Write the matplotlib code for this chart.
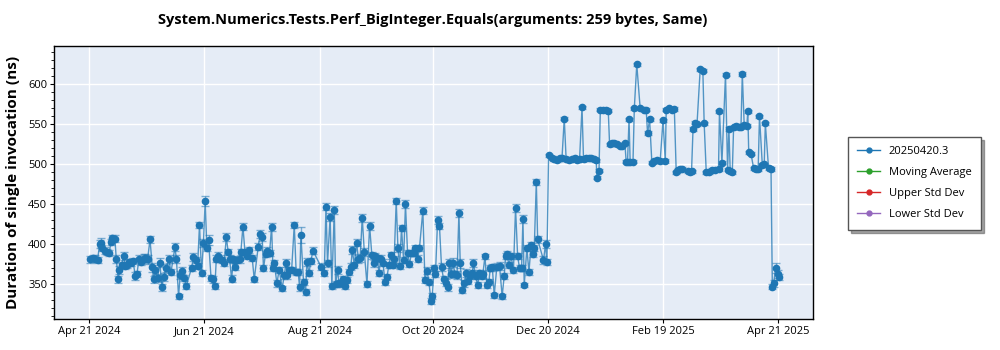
import numpy as np
import matplotlib
matplotlib.use("Agg")
import matplotlib.pyplot as plt
import matplotlib.dates as mdates
from matplotlib.ticker import MultipleLocator
from datetime import datetime, timedelta

plt.rcParams['font.family'] = ['Open Sans', 'DejaVu Sans']

title = "System.Numerics.Tests.Perf_BigInteger.Equals(arguments: 259 bytes, Same)"
ylabel = "Duration of single invocation (ns)"
series_name = "20250420.3"
start = datetime(2024, 4, 21)

# days since Apr 21 2024
days = [
    0.2, 2.0, 3.2, 4.4, 5.5, 6.4, 7.0, 8.1, 9.4, 10.6,
    11.5, 12.3, 13.6, 14.3, 15.4, 16.0, 17.1, 18.2, 19.1, 20.0,
    21.0, 22.1, 23.1, 24.5, 25.3, 26.3, 27.4, 28.8, 29.8, 30.9,
    32.2, 33.4, 34.1, 34.8, 36.2, 37.4, 38.5, 39.4, 40.8, 42.2,
    43.3, 45.4, 46.2, 47.3, 48.2, 49.1, 50.3, 51.4, 54.2, 55.2,
    56.3, 57.4, 58.4, 59.5, 60.5, 61.4, 62.3, 63.2, 64.5, 65.5,
    66.6, 67.3, 68.3, 69.4, 70.4, 71.5, 72.6, 73.6, 74.3, 75.4,
    76.4, 77.2, 78.2, 79.6, 80.3, 81.4, 82.5, 83.5, 84.6, 86.3,
    87.4, 89.5, 90.6, 91.6, 92.3, 93.4, 94.4, 95.5, 96.6, 97.3,
    98.0, 99.4, 100.6, 102.2, 103.3, 104.3, 105.0, 105.8, 107.2, 108.6,
    109.6, 110.7, 111.4, 112.1, 113.5, 114.6, 115.3, 116.4, 117.4, 118.5,
    122.7, 124.5, 125.4, 126.2, 127.6, 128.5, 129.8, 130.5, 131.5, 132.3,
    133.3, 134.4, 135.4, 136.5, 137.6, 138.6, 139.3, 140.4, 141.6, 142.6,
    143.5, 144.6, 145.7, 147.1, 148.5, 149.7, 150.6, 151.6, 152.7, 153.4,
    154.5, 155.6, 156.6, 157.7, 158.7, 159.8, 160.9, 161.5, 162.6, 163.5,
    164.4, 165.4, 166.5, 167.5, 168.6, 169.6, 170.7, 171.8, 172.8, 173.9,
    174.9, 176.7, 177.8, 178.9, 179.9, 181.0, 181.7, 182.7, 183.4, 184.5,
    185.5, 186.6, 187.7, 188.7, 189.8, 190.7, 191.6, 192.6, 193.7, 194.8,
    195.8, 196.5, 197.6, 198.6, 199.7, 200.7, 201.8, 202.9, 203.5, 204.6,
    205.7, 206.7, 207.8, 208.5, 209.6, 210.6, 211.7, 212.4, 213.5, 214.5,
    215.9, 217.3, 218.7, 219.8, 220.5, 221.2, 222.3, 223.4, 224.7, 225.8,
    226.9, 227.9, 229.0, 229.7, 230.4, 231.8, 232.9, 234.0, 235.0, 235.7,
    236.8, 237.5, 240.6, 241.7, 242.4,
    243.3, 245.1, 246.3, 247.7, 249.1, 250.4, 251.6, 252.6, 254.1, 255.7,
    257.1, 258.3, 259.7, 261.0, 261.8, 263.2, 264.7, 265.7, 267.1, 268.5,
    268.9, 270.0, 270.7, 272.1, 273.5, 274.9, 275.6, 277.0, 278.1, 279.5,
    280.9, 282.3, 283.7, 284.4, 285.1, 285.9, 286.5, 288.0, 288.7, 290.0,
    291.8, 293.6, 295.0, 295.7, 296.8, 298.0, 299.3, 300.7, 302.4, 303.9,
    305.1, 305.6, 307.0, 308.4, 309.9, 310.9, 312.1, 313.0, 314.1, 316.9,
    318.0, 319.0, 319.8, 320.8, 321.9, 323.6, 325.0, 325.7, 326.8, 328.0,
    329.8, 331.6, 333.3, 333.8, 335.1, 337.0, 338.1, 338.8, 339.5, 340.6,
    341.3, 342.7, 344.1, 345.2, 345.9, 346.9, 348.3, 348.8, 349.3, 350.5,
    351.9, 353.3, 354.3, 355.0, 356.5, 357.5, 358.1, 359.8, 361.1,
    361.8, 362.5, 363.5, 364.6, 365.3,
]

# mean duration (ns)
values = [
    381, 383, 382, 380, 400, 402, 395, 392, 390, 389,
    403, 408, 407, 382, 356, 368, 374, 385, 373, 374,
    378, 377, 379, 360, 363, 381, 378, 382, 383, 381,
    406, 371, 356, 368, 358, 377, 346, 359, 370, 381,
    365, 396, 381, 335, 361, 367, 358, 348, 370, 384,
    380, 373, 424, 364, 402, 454, 395, 405, 358, 356,
    348, 382, 385, 382, 380, 377, 409, 390, 382, 357,
    381, 372, 380, 381, 390, 422, 390, 385, 393, 383,
    356, 397, 413, 409, 370, 388, 392, 389, 422, 370,
    376, 351, 368, 345, 361, 377, 361, 368, 368, 424,
    365, 365, 346, 412, 353, 340, 378, 364, 379, 392,
    372, 364, 447, 376, 434, 348, 443, 350, 368, 351,
    351, 356, 348, 355, 365, 372, 393, 374, 402, 381,
    383, 433, 390, 350, 423, 386, 376, 385, 383, 364,
    382, 377, 353, 359, 374, 386, 374, 381, 454, 395,
    373, 420, 380, 450, 389, 375, 389, 389, 395, 382,
    395, 442, 355, 367, 353, 329, 335, 370, 363, 430,
    423, 371, 356, 352, 346, 376, 363, 377, 363, 361,
    439, 376, 343, 351, 364, 354, 360, 364, 376, 360,
    349, 364, 360, 363, 385, 349, 353, 370, 371, 336,
    372, 373, 335, 360, 385, 388, 374, 385, 368, 445,
    385, 370, 370, 431, 349, 395, 365, 399, 388, 395,
    478, 406, 380, 400, 378,
    511, 508, 506, 505, 508, 508, 557, 506, 505, 506,
    508, 505, 506, 571, 506, 508, 508, 508, 506, 505,
    483, 492, 568, 568, 568, 567, 525, 527, 526, 525,
    523, 523, 526, 503, 503, 556, 503, 503, 570, 625,
    570, 568, 568, 539, 556, 502, 504, 505, 504, 555,
    504, 568, 570, 568, 569, 490, 493, 494, 494, 491,
    490, 491, 544, 552, 550, 619, 617, 551, 490, 490,
    493, 493, 494, 566, 502, 612, 493, 544, 491, 490,
    547, 548, 547, 547, 613, 549, 548, 566, 515, 513,
    495, 494, 494, 560, 499, 500, 551, 495, 494,
    347, 351, 370, 363, 359,
]

# half width of the error bars (ns)
errors = [
    4, 4, 4, 4, 5, 6, 4, 4, 4, 4,
    4, 4, 4, 5, 4, 5, 4, 5, 4, 4,
    4, 4, 4, 5, 4, 5, 4, 6, 5, 6,
    4, 6, 4, 6, 5, 6, 4, 5, 5, 5,
    4, 5, 5, 3, 5, 4, 4, 4, 4, 5,
    4, 4, 4, 4, 5, 6, 4, 6, 4, 4,
    4, 4, 5, 4, 4, 4, 5, 4, 4, 4,
    4, 4, 4, 4, 4, 4, 4, 4, 4, 4,
    3, 4, 5, 5, 4, 4, 5, 4, 5, 4,
    4, 4, 4, 3, 4, 5, 4, 4, 4, 4,
    4, 4, 4, 10, 4, 4, 5, 4, 4, 4,
    4, 4, 4, 4, 5, 4, 5, 4, 5, 4,
    4, 4, 4, 4, 4, 4, 5, 4, 4, 5,
    5, 5, 5, 4, 5, 4, 4, 4, 4, 4,
    4, 4, 4, 4, 4, 4, 4, 4, 4, 5,
    4, 4, 4, 5, 4, 4, 4, 4, 4, 4,
    4, 4, 4, 4, 4, 4, 4, 4, 4, 5,
    4, 5, 4, 4, 4, 6, 5, 6, 4, 5,
    5, 6, 4, 4, 5, 4, 4, 4, 5, 4,
    4, 4, 4, 5, 3, 4, 4, 4, 4, 3,
    4, 5, 3, 4, 4, 4, 4, 4, 4, 5,
    4, 4, 4, 5, 3, 4, 4, 4, 4, 4,
    4, 4, 5, 5, 4,
    2, 2, 2, 2, 2, 2, 2, 2, 2, 2,
    2, 2, 2, 2, 2, 2, 2, 2, 2, 2,
    2, 2, 2, 2, 2, 2, 2, 2, 2, 2,
    2, 2, 2, 2, 2, 2, 2, 2, 2, 2,
    2, 2, 2, 2, 2, 2, 2, 2, 2, 2,
    2, 2, 2, 2, 2, 2, 2, 2, 2, 2,
    2, 2, 2, 2, 2, 2, 2, 2, 2, 2,
    2, 2, 2, 2, 2, 2, 2, 2, 2, 2,
    2, 2, 2, 2, 2, 2, 2, 2, 2, 2,
    2, 2, 2, 2, 2, 2, 2, 2, 2,
    3, 4, 6, 5, 4,
]

tick_dates = ["2024-04-21", "2024-06-21", "2024-08-21", "2024-10-20",
              "2024-12-20", "2025-02-19", "2025-04-21"]
legend_names = [series_name, "Moving Average", "Upper Std Dev", "Lower Std Dev"]
legend_colors = ["#1f77b4", "#2ca02c", "#d62728", "#9467bd"]

dates = [start + timedelta(days=d) for d in days]

fig = plt.figure(figsize=(10, 3.5), dpi=100)
ax = fig.add_axes([0.0543, 0.0877, 0.759, 0.781])
ax.set_facecolor("#e5ecf6")

ax.errorbar(dates, values, yerr=errors, fmt="none", ecolor="#1f77b4",
            elinewidth=1.0, capsize=3, capthick=1.0, alpha=0.55, zorder=2)
ax.plot(dates, values, color="#1f77b4", lw=1.0, alpha=0.75, zorder=3)
ax.plot(dates, values, ls="none", marker="o", ms=4.5, color="#1f77b4",
        mec="#1f77b4", zorder=4)

handles = []
for name, col in zip(legend_names, legend_colors):
    h, = ax.plot([], [], color=col, lw=1.0, marker="o", ms=3.5, label=name)
    handles.append(h)

ax.set_xlim(start + timedelta(days=-18.5), start + timedelta(days=383.5))
ax.set_ylim(306, 648)
ax.set_xticks([datetime.strptime(t, "%Y-%m-%d") for t in tick_dates])
ax.xaxis.set_major_formatter(mdates.DateFormatter("%b %d %Y"))
ax.yaxis.set_major_locator(MultipleLocator(50))
ax.yaxis.set_minor_locator(MultipleLocator(10))
ax.grid(True, which="major", color="white", lw=1.0)
ax.set_axisbelow(True)
for s in ax.spines.values():
    s.set_color("black")
    s.set_linewidth(1.0)
ax.tick_params(axis="both", which="major", labelsize=8, length=3, width=0.8, pad=2)
ax.tick_params(axis="y", which="minor", length=2, width=0.6)

ax.set_ylabel(ylabel, fontsize=11, fontweight="bold", labelpad=6)
fig.suptitle(title, fontsize=10.5, fontweight="bold", x=0.433, y=0.962)

leg = fig.legend(handles=handles, loc="upper left", bbox_to_anchor=(0.848, 0.609),
                 borderaxespad=0, fontsize=8, frameon=True, fancybox=False,
                 shadow=True, borderpad=0.85, labelspacing=0.9, handlelength=2.0)
leg.get_frame().set_edgecolor("#555555")
leg.get_frame().set_linewidth(1.0)

fig.savefig("out.png", dpi=100)
